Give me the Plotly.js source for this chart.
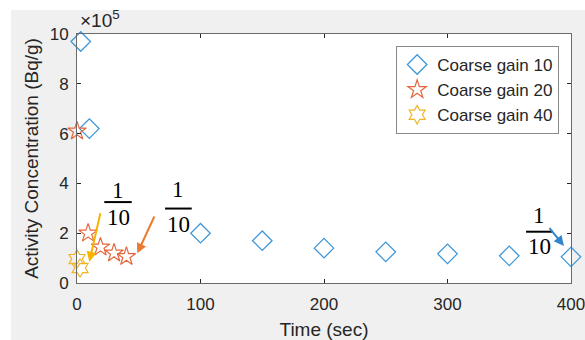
<!DOCTYPE html>
<html>
<head>
<meta charset="utf-8">
<script src="https://cdn.plot.ly/plotly-3.0.1.min.js"></script>
<style>html,body{margin:0;padding:0;background:#fff;overflow:hidden;width:585px;height:340px;}#chart{width:585px;height:340px;overflow:hidden;}</style>
</head>
<body>
<div id="chart"></div>
<script>
// Data (activity in Bq/g, time in sec)
const seriesNames = ["Coarse gain 10", "Coarse gain 20", "Coarse gain 40"];
const gain10Time = [3, 10, 100, 150, 200, 250, 300, 350, 400];
const gain10Activity = [9.7e5, 6.2e5, 2.0e5, 1.7e5, 1.4e5, 1.25e5, 1.17e5, 1.09e5, 1.05e5];
const gain20Time = [0, 9, 19, 30, 40];
const gain20Activity = [6.1e5, 2.0e5, 1.44e5, 1.2e5, 1.06e5];
const gain40Time = [0, 2.5];
const gain40Activity = [0.96e5, 0.6e5];
const yTickVals = [0, 2e5, 4e5, 6e5, 8e5, 10e5];
const yTickText = ["0", "2", "4", "6", "8", "10"];
const xTickVals = [0, 100, 200, 300, 400];

const font = "Liberation Sans, Arial, sans-serif";
const serif = "Liberation Serif, Times New Roman, serif";
const txt = "#262626";
const blue = "#3f97d8", orange = "#e3683f", yellow = "#f0b429";

const traces = [
  {x: gain10Time, y: gain10Activity, name: seriesNames[0], mode: "markers", type: "scatter", cliponaxis: false,
   marker: {symbol: "diamond-open", size: 15, color: blue, line: {width: 1.3, color: blue}}},
  {x: gain20Time, y: gain20Activity, name: seriesNames[1], mode: "markers", type: "scatter", cliponaxis: false,
   marker: {symbol: "star-open", size: 14, color: orange, line: {width: 1.2, color: orange}}},
  {x: gain40Time, y: gain40Activity, name: seriesNames[2], mode: "markers", type: "scatter", cliponaxis: false,
   marker: {symbol: "hexagram-open", size: 14, color: yellow, line: {width: 1.2, color: yellow}}}
];

function frac(xc, yNum, yBar, yDen, x0, x1) {
  return {
    ann: [
      {x: xc, y: yNum, xref: "x", yref: "y", text: "1", showarrow: false, font: {family: serif, size: 23, color: "#000"}},
      {x: xc, y: yDen, xref: "x", yref: "y", text: "10", showarrow: false, font: {family: serif, size: 23, color: "#000"}}
    ],
    shape: {type: "line", xref: "x", yref: "y", x0: x0, x1: x1, y0: yBar, y1: yBar, line: {color: "#000", width: 2}}
  };
}
const f1 = frac(33.4, 3.72e5, 3.25e5, 2.62e5, 22.1, 44.3);
const f2 = frac(81.8, 3.76e5, 2.99e5, 2.34e5, 71.3, 92.9);
const f3 = frac(374.3, 2.72e5, 2.06e5, 1.45e5, 363.6, 385.4);

function arrow(x, y, ax, ay, color) {
  return {x: x, y: y, ax: ax, ay: ay, xref: "x", yref: "y", axref: "x", ayref: "y", text: "",
    showarrow: true, arrowhead: 2, arrowsize: 1, arrowwidth: 2, arrowcolor: color};
}

const layout = {
  width: 585, height: 340,
  paper_bgcolor: "#f0f0f0", plot_bgcolor: "#ffffff",
  margin: {l: 77, r: 14, t: 34, b: 57, pad: 0},
  font: {family: font, color: txt, size: 17},
  showlegend: true,
  legend: {x: 0.976, y: 0.952, xanchor: "right", yanchor: "top", bgcolor: "#ffffff",
    bordercolor: "#8a8a8a", borderwidth: 1, font: {family: font, size: 17, color: txt}},
  xaxis: {range: [0, 400], tickvals: xTickVals, ticks: "inside", ticklen: 4, tickcolor: "#262626",
    showline: true, linecolor: "#6a6a6a", linewidth: 1, mirror: "ticks", showgrid: false, zeroline: false,
    tickfont: {size: 17, color: txt}, ticklabelstandoff: 6, ticklabeloverflow: "allow",
    title: {text: "Time (sec)", font: {size: 19, color: txt}, standoff: 9}},
  yaxis: {range: [0, 10e5], tickvals: yTickVals, ticktext: yTickText, ticks: "inside", ticklen: 4, tickcolor: "#262626",
    showline: true, linecolor: "#6a6a6a", linewidth: 1, mirror: "ticks", showgrid: false, zeroline: false,
    tickfont: {size: 17, color: txt}, ticklabelstandoff: 4,
    title: {text: "Activity Concentration (Bq/g)", font: {size: 19, color: txt}, standoff: 6}},
  shapes: [
    {type: "rect", xref: "paper", yref: "paper", x0: -0.2, x1: (11 - 77) / 494, y0: -0.3, y1: 1.2, fillcolor: "#fff", line: {width: 0}, layer: "below"},
    {type: "rect", xref: "paper", yref: "paper", x0: -0.2, x1: 1.1, y0: (283 - 10) / 249, y1: 1.3, fillcolor: "#fff", line: {width: 0}, layer: "below"},
    f1.shape, f2.shape, f3.shape
  ],
  annotations: [
    {x: 0.002, y: 1.004, xref: "paper", yref: "paper", xanchor: "left", yanchor: "bottom", showarrow: false,
     text: "×10<sup>5</sup>", font: {size: 19, color: txt}},
    ...f1.ann, ...f2.ann, ...f3.ann,
    arrow(10.0, 0.855e5, 19.2, 2.86e5, "#f5b400"),
    arrow(48.8, 1.19e5, 63.2, 2.73e5, "#ec7a2e"),
    arrow(394.3, 1.49e5, 381.6, 2.26e5, "#2f86cc")
  ]
};

Plotly.newPlot("chart", traces, layout, {staticPlot: true, displayModeBar: false});
</script>
</body>
</html>
